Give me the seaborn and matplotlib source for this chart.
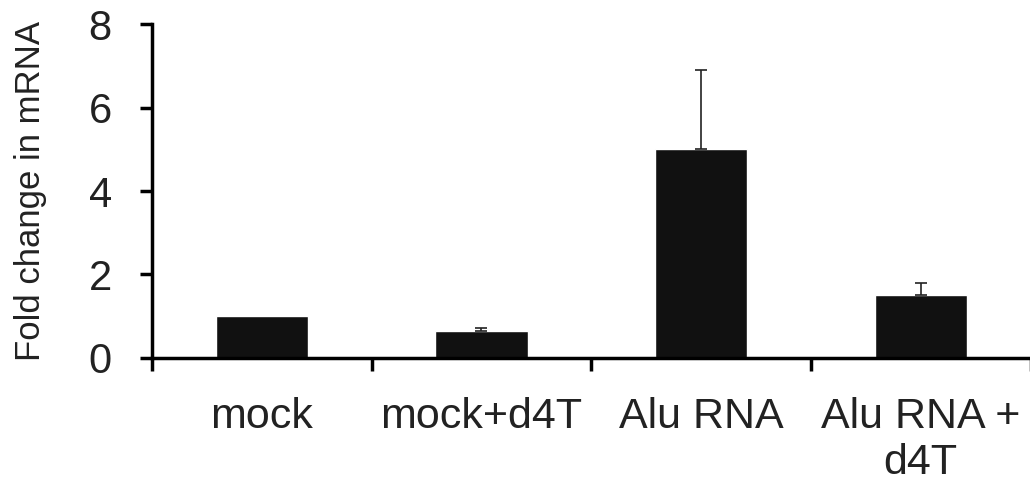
import pandas as pd
import seaborn as sns
import matplotlib.pyplot as plt

categories = ['mock', 'mock+d4T', 'Alu RNA', 'Alu RNA +\nd4T']
fold_change = [1.0, 0.65, 5.0, 1.5]
error_up = [0.0, 0.07, 1.9, 0.3]

df = pd.DataFrame({'group': categories, 'fold': fold_change})

sns.set_style('ticks')
plt.rcParams['font.family'] = ['Liberation Sans', 'DejaVu Sans']

fig = plt.figure(figsize=(10.30, 4.93), dpi=100)
ax = fig.add_axes([0.1476, 0.274, 0.853, 0.677])

sns.barplot(data=df, x='group', y='fold', color='#111111', width=0.42,
            errorbar=None, saturation=1, ax=ax)

# upward-only error bars (skip groups without error)
idx = [i for i, e in enumerate(error_up) if e > 0]
ax.errorbar(idx, [fold_change[i] for i in idx],
            yerr=[[0] * len(idx), [error_up[i] for i in idx]],
            fmt='none', ecolor='#222222', elinewidth=1.2, capsize=4, capthick=1.2)

ax.set_xlim(-0.5, len(categories) - 0.5)
ax.set_ylim(0, 8)
ax.set_yticks([0, 2, 4, 6, 8])
ax.set_xlabel('')
ax.set_ylabel('Fold change in mRNA', fontsize=25, color='#222222', labelpad=30)

# group separator ticks on x axis, labels without ticks
ax.set_xticks([i - 0.5 for i in range(len(categories) + 1)], minor=True)
ax.tick_params(axis='x', which='major', length=0, pad=28, labelsize=31, colors='#222222')
ax.tick_params(axis='x', which='minor', length=9, width=2.5, direction='out', color='black')
ax.tick_params(axis='y', length=9, width=2.5, pad=20, labelsize=30, colors='#222222')
ax.tick_params(axis='y', color='black')

for s in ['top', 'right']:
    ax.spines[s].set_visible(False)
for s in ['left', 'bottom']:
    ax.spines[s].set_linewidth(2.5)
    ax.spines[s].set_color('black')
ax.spines['bottom'].set_zorder(5)

fig.savefig('out.png', dpi=100)
